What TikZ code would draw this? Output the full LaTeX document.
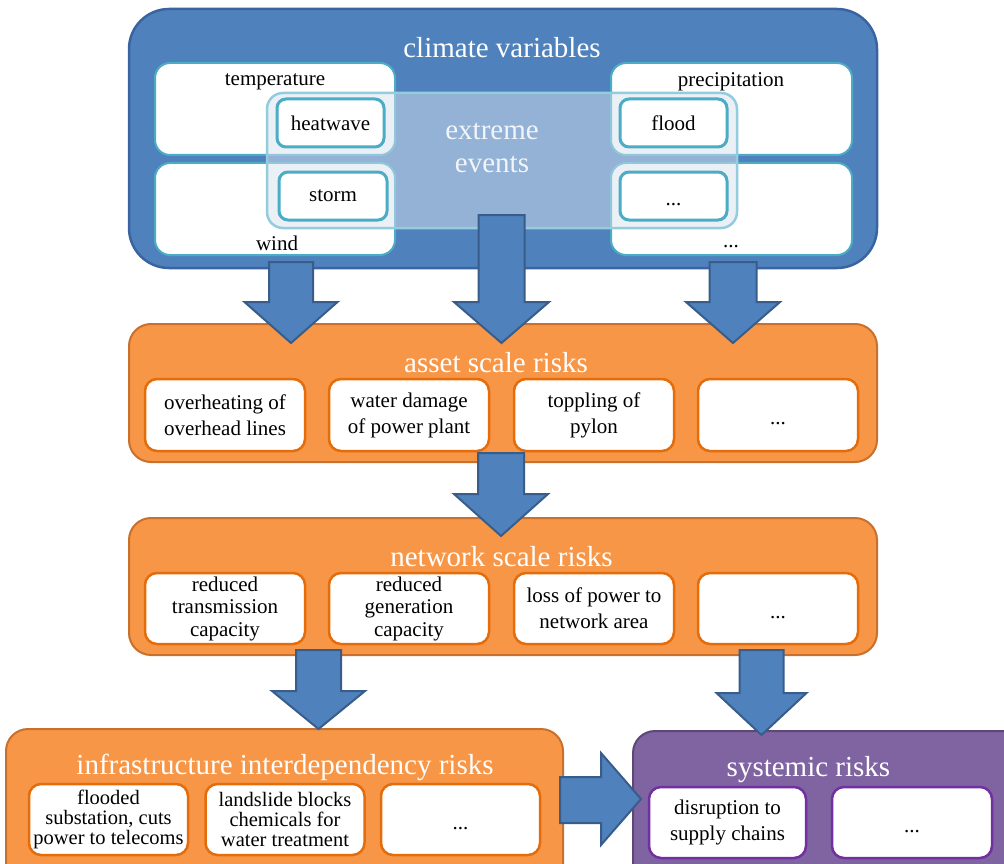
\documentclass[tikz,border=0pt]{standalone}
\usepackage{fontspec}
\setmainfont{Liberation Serif}
\definecolor{cvblue}{HTML}{4F81BD}
\definecolor{cvborder}{HTML}{3A64A0}
\definecolor{arrowborder}{HTML}{385D8A}
\definecolor{tealb}{HTML}{4BACC6}
\definecolor{evborder}{HTML}{93CDDD}
\definecolor{evfill}{HTML}{D8E3F0}
\definecolor{orfill}{HTML}{F79646}
\definecolor{orborder}{HTML}{C9702C}
\definecolor{orinborder}{HTML}{E46C0A}
\definecolor{pufill}{HTML}{8064A2}
\definecolor{puborder}{HTML}{5C4776}
\definecolor{puinborder}{HTML}{7030A0}
\newcommand{\txtfont}{\fontsize{21}{26}\selectfont}
\newcommand{\mydots}{\vphantom{Ag}...}
\newcommand{\boxdots}{\vphantom{Ag}\smash{\raisebox{-5pt}{...}}}
\newcommand{\dnarr}[6]{% cx, shaft half, head half, y0, yh, ytip
  \draw[barrow] ({#1-#2},#4) -- ({#1+#2},#4) -- ({#1+#2},#5) -- ({#1+#3},#5)
    -- (#1,#6) -- ({#1-#3},#5) -- ({#1-#2},#5) -- cycle;}
\begin{document}
\begin{tikzpicture}[x=1pt,y=-1pt,
  every node/.style={inner sep=0pt, align=center, text=black},
  outerblue/.style={draw=cvborder, line width=2.5pt, fill=cvblue, rounded corners=40pt},
  varbox/.style={draw=tealb, line width=2pt, fill=white, rounded corners=15pt,
    minimum width=240pt, minimum height=92pt},
  evbox/.style={draw=tealb, line width=3pt, fill=white, rounded corners=9pt,
    minimum width=107pt, minimum height=48pt, font=\txtfont},
  evlayer/.style={draw=evborder, line width=2.5pt, fill=evfill, fill opacity=0.5,
    draw opacity=1, rounded corners=16pt},
  orouter/.style={draw=orborder, line width=2pt, fill=orfill, rounded corners=22pt},
  orinner/.style={draw=orinborder, line width=2.5pt, fill=white, rounded corners=12pt,
    minimum width=160pt, minimum height=72pt, font=\txtfont},
  puouter/.style={draw=puborder, line width=2pt, fill=pufill, rounded corners=22pt},
  puinner/.style={draw=puinborder, line width=2.5pt, fill=white, rounded corners=12pt,
    minimum width=157pt, minimum height=71pt, font=\txtfont},
  title/.style={text=white, font=\fontsize{29}{33}\selectfont, yshift=-2.5pt},
  lbl/.style={font=\txtfont, yshift=-3pt},
  barrow/.style={fill=cvblue, draw=arrowborder, line width=2pt, line join=miter}]
\useasboundingbox (0,0) rectangle (1004,864);
\clip (0,0) rectangle (1004,864);
\fill[white] (0,0) rectangle (1004,864);

% climate variables
\node[outerblue, minimum width=748pt, minimum height=259pt] (climate) at (503,138.5) {};
\node[title] (climatet) at (502,45) {climate variables};
\node[varbox] (temp) at (275,109) {};
\node[varbox] (wind) at (275,209) {};
\node[varbox, minimum width=241pt] (prec) at (731.5,109) {};
\node[varbox, minimum width=241pt] (other) at (731.5,209) {};
\node[lbl] (templ) at (275,79) {temperature};
\node[lbl] (windl) at (277,240) {wind};
\node[lbl] (precl) at (731,79) {precipitation};
\node[lbl] (otherl) at (731,240) {\mydots};
\node[evlayer, minimum width=470pt, minimum height=135pt] (extreme) at (502,160.5) {};
\node[title, text=white!92!cvblue] (extremet) at (492,145.5) {extreme\\[0pt]events};
\node[evbox] (heat) at (330.5,123) {heatwave};
\node[evbox, minimum width=108pt] (storm) at (333,196) {storm};
\node[evbox] (flood) at (673.5,123) {flood};
\node[evbox] (evother) at (673.5,196) {\boxdots};

% asset scale risks
\node[orouter, minimum width=748pt, minimum height=138pt] (asset) at (503,393) {};
\node[title] (assett) at (496,360) {asset scale risks};
\node[orinner] (a1) at (225,415) {overheating of\\overhead lines};
\node[orinner] (a2) at (409,415) {water damage\\of power plant};
\node[orinner] (a3) at (594,415) {toppling of\\pylon};
\node[orinner] (a4) at (778,415) {\boxdots};

% network scale risks
\node[orouter, minimum width=748pt, minimum height=137pt] (network) at (503,586.5) {};
\node[title] (networkt) at (501.5,554) {network scale risks};
\node[orinner, minimum height=71pt, font=\fontsize{21}{22.5}\selectfont] (n1) at (225,608.5) {reduced\\transmission\\capacity};
\node[orinner, minimum height=71pt, font=\fontsize{21}{22.5}\selectfont] (n2) at (409,608.5) {reduced\\generation\\capacity};
\node[orinner, minimum height=71pt] (n3) at (594,608.5) {loss of power to\\network area};
\node[orinner, minimum height=71pt] (n4) at (778,608.5) {\boxdots};

% infrastructure interdependency risks
\node[orouter, minimum width=557pt, minimum height=200pt] (infra) at (284.5,829) {};
\node[title] (infrat) at (285,765) {infrastructure interdependency risks};
\node[orinner, minimum width=159pt, minimum height=71pt, font=\fontsize{20.5}{20}\selectfont] (i1) at (108.5,819.5) {flooded\\substation, cuts\\power to telecoms};
\node[orinner, minimum width=159pt, minimum height=71pt, font=\fontsize{20.5}{20}\selectfont] (i2) at (285,819.5) {landslide blocks\\chemicals for\\water treatment};
\node[orinner, minimum width=159pt, minimum height=71pt] (i3) at (460.5,819.5) {\boxdots};

% systemic risks
\node[puouter, minimum width=400pt, minimum height=200pt] (systemic) at (833,831) {};
\node[title] (systemict) at (808.5,767) {systemic risks};
\node[puinner] (s1) at (727.5,822.5) {disruption to\\supply chains};
\node[puinner, minimum width=160pt] (s2) at (912,822.5) {\boxdots};

% block arrows
\dnarr{291}{22}{46.5}{262}{302}{343}
\dnarr{501.5}{23}{47.5}{215}{302}{343}
\dnarr{733}{23.5}{47}{262}{302}{343}
\dnarr{501}{23}{47}{453}{494}{536}
\dnarr{318.5}{22.5}{46.5}{650}{691}{729}
\dnarr{761.5}{22}{45}{650}{693}{735}
\draw[barrow] (560,777) -- (601,777) -- (601,753) -- (641,799) -- (601,845)
  -- (601,823) -- (560,823) -- cycle;
\end{tikzpicture}
\end{document}
